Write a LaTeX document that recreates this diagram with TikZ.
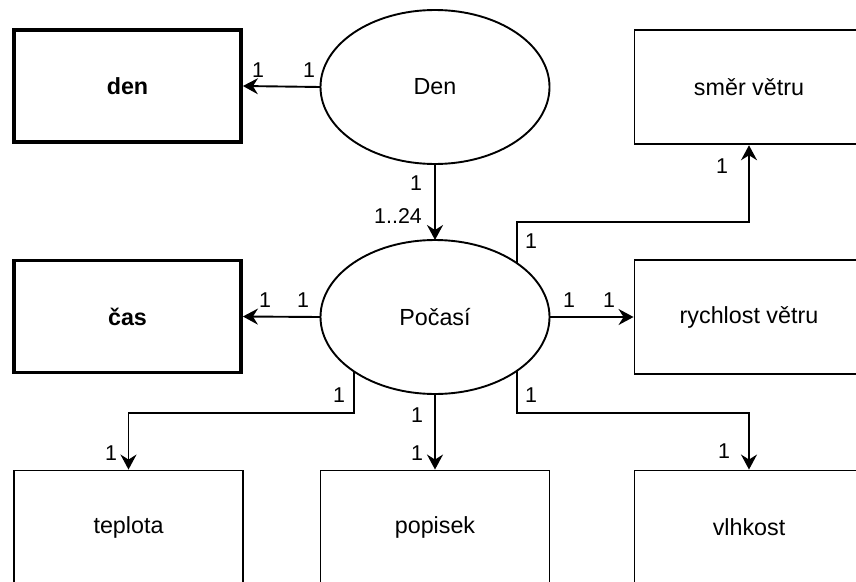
\documentclass[tikz,border=0pt]{standalone}
\usepackage{fontspec}
\setmainfont{Liberation Sans}
\usetikzlibrary{shapes.geometric,arrows.meta,calc}
\begin{document}
\begin{tikzpicture}[x=1pt,y=-1pt,
  entity/.style={draw, line width=1.9pt, minimum width=229pt, minimum height=114pt,
    inner sep=0pt, font=\fontsize{23.3}{28}\selectfont},
  strongentity/.style={entity, line width=3.8pt, minimum width=227pt, minimum height=112pt,
    font=\fontsize{23.3}{28}\selectfont\bfseries},
  rel/.style={draw, ellipse, line width=1.9pt, minimum width=229pt, minimum height=154pt,
    inner sep=0pt, outer sep=0pt, font=\fontsize{23.3}{28}\selectfont},
  link/.style={line width=1.9pt, -{Stealth[length=15pt,width=16pt,inset=5pt]}},
  card/.style={anchor=base, inner sep=0pt, font=\fontsize{21.4}{25}\selectfont}
]
\useasboundingbox (0,0) rectangle (856,581);
\clip (0,0) rectangle (856,581);
\fill[white] (0,0) rectangle (856,581);

% relationship ellipses
\node[rel] (denrel) at (435,87) {Den};
\node[rel] (pocasi) at (435,317) {Počasí};

% entities
\node[strongentity] (den) at (127.5,86) {den};
\node[strongentity] (cas) at (127.5,316.5) {čas};
\node[entity] (smer) at (749,87.3) {směr větru};
\node[entity] (rychlost) at (749,317) {rychlost větru};
\node[entity] (teplota) at (128.5,527.5) {teplota};
\node[entity] (popisek) at (435,527.5) {popisek};
\node[entity] (vlhkost) at (749,527.5) {vlhkost};

% connectors
\draw[link] (denrel.west) -- (den.east);
\draw[link] (denrel.south) -- (pocasi.north);
\draw[link] (pocasi.west) -- (cas.east);
\draw[link] (pocasi.east) -- (rychlost.west);
\draw[link] (pocasi.south) -- (popisek.north);
\draw[link] (pocasi.33.4) |- ($(smer.south)+(0,77)$) -- (smer.south);
\draw[link] (pocasi.214) |- ($(teplota.north)+(0,-57)$) -- (teplota.north);
\draw[link] (pocasi.-33.4) |- ($(vlhkost.north)+(0,-57)$) -- (vlhkost.north);

% cardinalities
\node[card] at (258,77) {1};
\node[card] at (309,77) {1};
\node[card] at (416,190) {1};
\node[card] at (398,223) {1..24};
\node[card] at (531,248) {1};
\node[card] at (722,173) {1};
\node[card] at (265,307) {1};
\node[card] at (303,307) {1};
\node[card] at (569,307) {1};
\node[card] at (609,307) {1};
\node[card] at (339,402) {1};
\node[card] at (111,460) {1};
\node[card] at (417,422) {1};
\node[card] at (417,460) {1};
\node[card] at (531,402) {1};
\node[card] at (724,458) {1};
\end{tikzpicture}
\end{document}
